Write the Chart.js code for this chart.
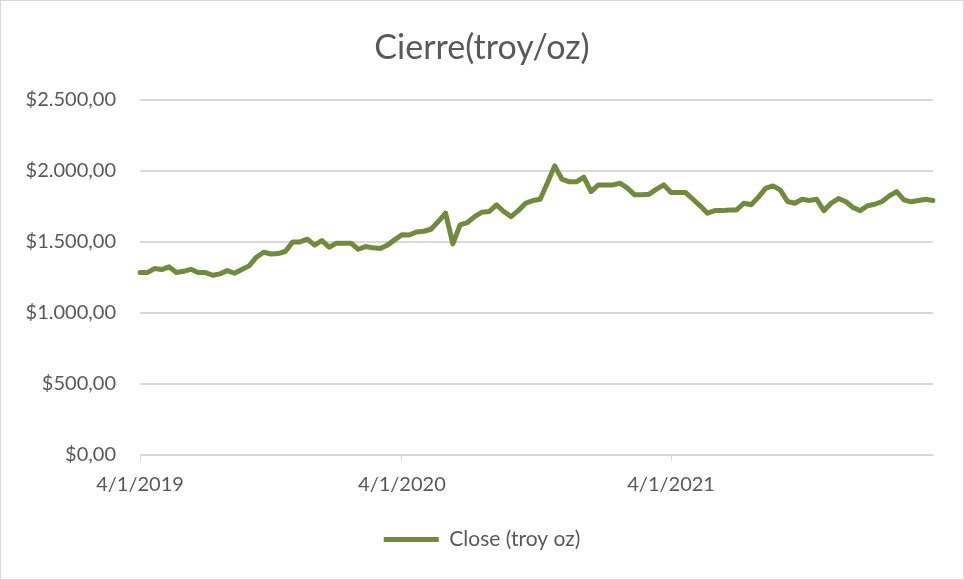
<!DOCTYPE html>
<html>
<head>
<meta charset="utf-8">
<script src="https://cdn.jsdelivr.net/npm/chart.js@4"></script>
<style>
  body { margin: 0; background: #fff; }
  .chart-box { position: absolute; left: 0; top: 0; width: 964px; height: 580px; box-sizing: border-box; border: 1px solid #d9d9d9; background: #fff; }
</style>
</head>
<body>
<div class="chart-box"><canvas id="gold-chart" width="962" height="578"></canvas></div>
<script>
const chartTitle = 'Cierre(troy/oz)';
const seriesName = 'Close (troy oz)';
const tickLabels = ['4/1/2019', '4/1/2020', '4/1/2021'];
const tickIndex = [0, 36, 73];
const closeValues = [
  1284, 1284, 1312, 1305, 1324, 1284, 1293, 1307, 1284, 1284,
  1265, 1275, 1298, 1279, 1305, 1331, 1392, 1427, 1415, 1418,
  1434, 1500, 1500, 1519, 1477, 1509, 1462, 1491, 1491, 1491,
  1448, 1467, 1458, 1453, 1477, 1514, 1550, 1548, 1570, 1575,
  1589, 1643, 1702, 1486, 1620, 1636, 1678, 1709, 1714, 1761,
  1714, 1678, 1720, 1772, 1791, 1800, 1915, 2035, 1941, 1923,
  1923, 1955, 1854, 1901, 1901, 1901, 1913, 1878, 1831, 1831,
  1836, 1871, 1901, 1847, 1847, 1847, 1800, 1754, 1702, 1720,
  1720, 1725, 1725, 1772, 1761, 1815, 1876, 1894, 1866, 1784,
  1772, 1800, 1791, 1800, 1720, 1772, 1805, 1784, 1742, 1720,
  1754, 1765, 1784, 1824, 1854, 1796, 1782, 1791, 1800, 1791
];
const categories = closeValues.map((v, i) => i);

const textColor = '#595959';
const lineColor = '#718a3d';
const gridColor = '#d9d9d9';

// $2.500,00 style
function money(v) {
  const [whole, dec] = v.toFixed(2).split('.');
  return '$' + whole.replace(/\B(?=(\d{3})+(?!\d))/g, '.') + ',' + dec;
}

(function () {
  const canvas = document.getElementById('gold-chart');

  new Chart(canvas, {
    type: 'line',
    data: {
      labels: categories,
      datasets: [{
        label: seriesName,
        data: closeValues,
        yAxisID: 'y',
        borderColor: lineColor,
        backgroundColor: lineColor,
        borderWidth: 5,
        borderCapStyle: 'round',
        borderJoinStyle: 'round',
        pointRadius: 0,
        tension: 0,
        fill: false
      }]
    },
    options: {
      responsive: false,
      animation: false,
      layout: { padding: { left: 0, right: 0, top: 0, bottom: 19 } },
      scales: {
        x: {
          offset: false,
          grid: {
            drawOnChartArea: false,
            drawTicks: true,
            tickLength: 6,
            lineWidth: 1,
            color: (ctx) => tickIndex.includes(ctx.index) ? gridColor : 'transparent'
          },
          border: { display: true, color: gridColor, width: 1 },
          ticks: {
            autoSkip: false,
            maxRotation: 0,
            padding: 12,
            color: textColor,
            font: { family: 'Lato', size: 20 },
            callback: (value, index) => {
              const k = tickIndex.indexOf(index);
              return k >= 0 ? tickLabels[k] : '';
            }
          },
          afterFit: (s) => { s.height = 64; }
        },
        y: {
          min: 0,
          max: 2500,
          grid: { color: gridColor, lineWidth: 2, drawTicks: false },
          border: { display: false },
          ticks: {
            stepSize: 500,
            padding: 24,
            color: textColor,
            font: { family: 'Lato', size: 20 },
            callback: (v) => money(v)
          },
          afterFit: (s) => { s.width = 139; }
        },
        // empty right axis, only keeps the plot clear of the right edge
        yRight: {
          position: 'right',
          min: 0,
          max: 2500,
          grid: { display: false },
          border: { display: false },
          ticks: { display: false },
          afterFit: (s) => { s.width = 30; }
        }
      },
      plugins: {
        title: {
          display: true,
          text: chartTitle,
          color: textColor,
          font: { family: 'Lato', size: 34, weight: 'normal' },
          padding: { top: 27, bottom: 31 }
        },
        legend: {
          position: 'bottom',
          labels: {
            usePointStyle: true,
            pointStyle: 'line',
            pointStyleWidth: 55,
            color: textColor,
            font: { family: 'Lato', size: 21 }
          }
        },
        tooltip: { enabled: false }
      }
    }
  });
})();
</script>
</body>
</html>
